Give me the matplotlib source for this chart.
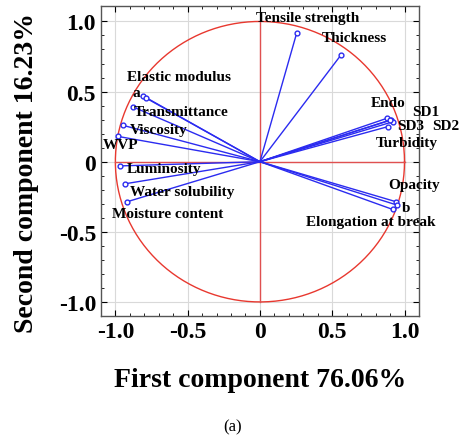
import numpy as np
import matplotlib.pyplot as plt

# loadings
names = ["Tensile strength", "Thickness", "Elastic modulus", "a", "Transmittance",
         "Viscosity", "WVP", "Luminosity", "Water solubility", "Moisture content",
         "Opacity", "b", "Elongation at break", "Endo", "SD1", "SD3", "SD2", "Turbidity"]
pc1 = [0.255, 0.56, -0.81, -0.79, -0.876, -0.95, -0.98, -0.966, -0.93, -0.917,
       0.94, 0.95, 0.917, 0.88, 0.91, 0.92, 0.90, 0.885]
pc2 = [0.92, 0.76, 0.47, 0.455, 0.39, 0.26, 0.18, -0.03, -0.157, -0.285,
       -0.285, -0.31, -0.34, 0.31, 0.30, 0.285, 0.295, 0.25]
# label anchors (left x, center y)
label_x = [-0.03, 0.43, -0.92, -0.88, -0.875, -0.90, -1.09, -0.92, -0.90, -1.02,
           0.89, 0.98, 0.32, 0.77, 1.05, 0.95, 1.19, 0.80]
label_y = [1.03, 0.886, 0.61, 0.49, 0.36, 0.23, 0.12, -0.05, -0.21, -0.37,
           -0.16, -0.33, -0.43, 0.42, 0.36, 0.26, 0.26, 0.14]

ticks = [-1.0, -0.5, 0, 0.5, 1.0]
tick_labels = ["-1.0", "-0.5", "0", "0.5", "1.0"]

plt.rcParams['font.family'] = ['Liberation Serif', 'DejaVu Serif']
plt.rcParams['font.weight'] = 'bold'

fig = plt.figure(figsize=(4.65, 4.39), dpi=100)
ax = fig.add_axes([0.217, 0.278, 0.684, 0.706])

theta = np.linspace(0, 2 * np.pi, 400)
ax.plot(np.cos(theta), np.sin(theta), color="#e8382f", lw=1.0, zorder=2)
ax.plot([-1, 1], [0, 0], color="#e05050", lw=1.0, zorder=2)
ax.plot([0, 0], [-1, 1], color="#e05050", lw=1.0, zorder=2)

for x, y in zip(pc1, pc2):
    ax.plot([0, x], [0, y], color="#2b2bf0", lw=1.0, zorder=3)
ax.scatter(pc1, pc2, s=12, facecolors="white", edgecolors="#2b2bf0", linewidths=1.0, zorder=4)

for n, x, y in zip(names, label_x, label_y):
    ax.text(x, y, n, fontsize=11, fontweight='bold', ha='left', va='center',
            clip_on=False, zorder=5)

ax.set_xlim(-1.1, 1.1)
ax.set_ylim(-1.1, 1.11)
ax.set_xticks(ticks)
ax.set_xticklabels(tick_labels, fontsize=17, fontweight='bold')
ax.set_yticks(ticks)
ax.set_yticklabels(tick_labels, fontsize=17, fontweight='bold')
ax.set_xticks(np.arange(-1.0, 1.01, 0.1), minor=True)
ax.set_yticks(np.arange(-1.0, 1.01, 0.1), minor=True)
ax.tick_params(direction='in', length=4, width=0.8, top=True, right=True)
ax.tick_params(which='minor', direction='in', length=2, width=0.6, top=True, right=True)
ax.grid(True, color="#d9d9d9", lw=0.8, zorder=0)
for s in ax.spines.values():
    s.set_linewidth(1.0)
    s.set_color("#555555")

ax.set_xlabel("First component 76.06%", fontsize=20, fontweight='bold')
ax.xaxis.set_label_coords(0.5, -0.165)
ax.set_ylabel("Second component 16.23%", fontsize=20, fontweight='bold')
ax.yaxis.set_label_coords(-0.195, 0.465)
fig.text(0.5, 0.027, "(a)", fontsize=12, fontweight='normal', ha='center', va='center')

plt.savefig("out.png", dpi=100)
